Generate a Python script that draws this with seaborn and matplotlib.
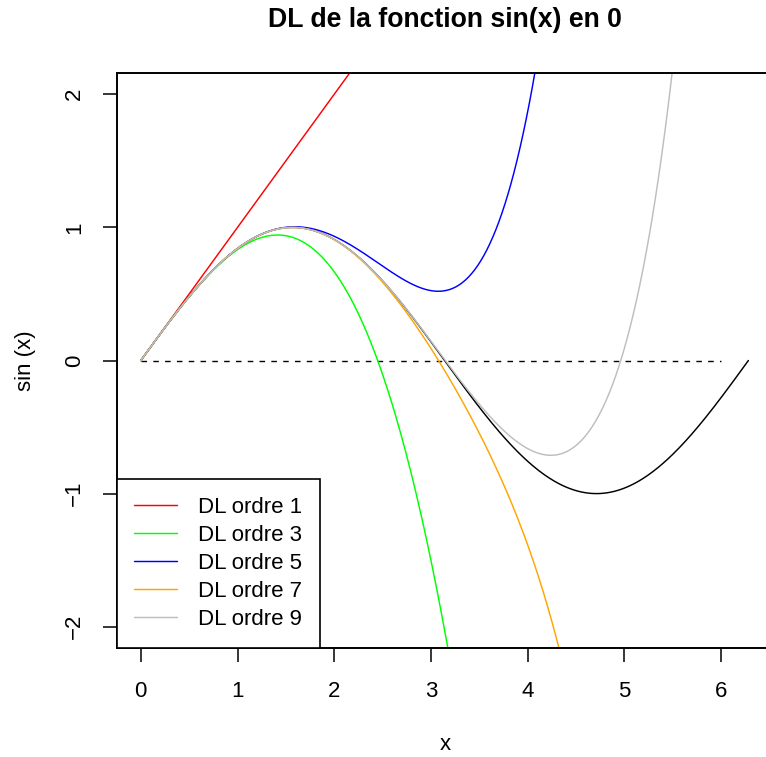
import matplotlib
matplotlib.use("Agg")
import matplotlib.pyplot as plt
import numpy as np
import pandas as pd
import seaborn as sns

# orders of the Taylor expansions (DL) of sin at 0, and their colours
orders = [1, 3, 5, 7, 9]
labels = ["DL ordre 1", "DL ordre 3", "DL ordre 5", "DL ordre 7", "DL ordre 9"]
colors = ["#FF0000", "#00FF00", "#0000FF", "#FFA500", "#BEBEBE"]
x_ticks = [0, 1, 2, 3, 4, 5, 6]
y_ticks = [-2, -1, 0, 1, 2]


def taylor_sin(x, n):
    # partial sum of the series of sin up to x**n
    total = np.zeros_like(x)
    fact = 1.0
    for k in range(1, n + 1):
        fact *= k
        if k % 2 == 1:
            total += (-1) ** ((k - 1) // 2) * x ** k / fact
    return total


x = np.linspace(0, 2 * np.pi, 600)
df = pd.DataFrame({"x": x, "sin": np.sin(x)})
for n in orders:
    df["DL%d" % n] = taylor_sin(x, n)

sns.set_style("white")
plt.rcParams["font.family"] = ["Liberation Sans", "DejaVu Sans"]
plt.rcParams["axes.unicode_minus"] = True
for k in ["text.color", "axes.labelcolor", "xtick.color", "ytick.color"]:
    plt.rcParams[k] = "black"

W, H = 766, 757
fig = plt.figure(figsize=(W / 100, H / 100), dpi=100)
left, right, top, bottom = 116.5, 772.7, 73, 648
ax = fig.add_axes([left / W, (H - bottom) / H, (right - left) / W, (bottom - top) / H])

sns.lineplot(data=df, x="x", y="sin", color="black", linewidth=1.05, ax=ax)
ax.plot([0, 6], [0, 0], color="black", linewidth=1.0, dashes=(4, 4.5))
for n, lab, c in zip(orders, labels, colors):
    sns.lineplot(data=df, x="x", y="DL%d" % n, color=c, linewidth=1.05, label=lab, ax=ax)

ax.set_xlim(-0.2513, 6.5345)
ax.set_ylim(-2.16, 2.16)
ax.set_xticks(x_ticks)
ax.set_yticks(y_ticks)
ax.tick_params(axis="both", length=10, width=1.1, direction="out", labelsize=16,
               bottom=True, left=True, color="black", labelcolor="black")
ax.tick_params(axis="x", pad=13.5)
ax.tick_params(axis="y", pad=12.5)
for t in ax.get_yticklabels():
    t.set_rotation(90)
    t.set_va("center")
for s in ax.spines.values():
    s.set_color("black")
    s.set_linewidth(1.4)

ax.set_xlabel("x", fontsize=16)
ax.set_ylabel("sin (x)", fontsize=16)
ax.xaxis.set_label_coords((445 - left) / (right - left), -(745 - bottom) / (bottom - top), transform=ax.transAxes)
ax.yaxis.set_label_coords(-(left - 25) / (right - left), 0.5, transform=ax.transAxes)
ax.xaxis.label.set_va("center")
ax.yaxis.label.set_va("center")

fig.suptitle("DL de la fonction sin(x) en 0", x=(left + right) / 2 / W, y=1 - 20 / H,
             va="center", fontsize=19.2, fontweight="bold")

leg = ax.legend(loc="lower left", borderaxespad=0, fancybox=False, frameon=True,
                edgecolor="black", fontsize=16, handlelength=1.9, handletextpad=0.95,
                borderpad=0.8, labelspacing=0.32)
leg.get_frame().set_linewidth(1.2)
leg.get_frame().set_alpha(1)

fig.savefig("out.png", dpi=100)
